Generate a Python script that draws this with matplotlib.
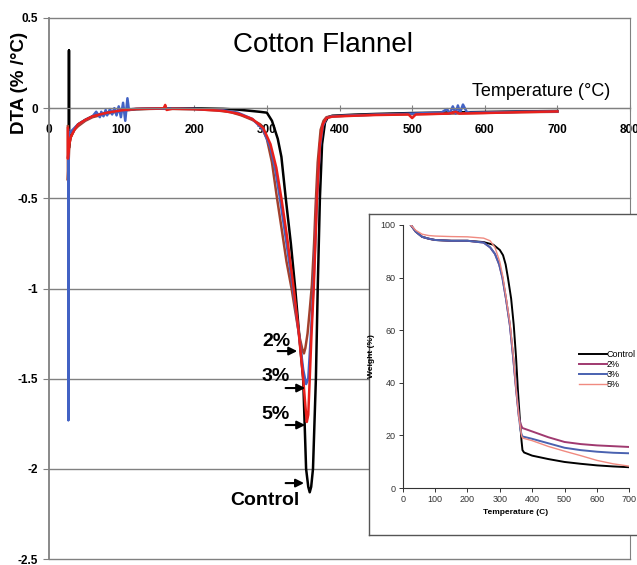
import matplotlib.pyplot as plt

plt.rcParams['font.family'] = ['Liberation Sans', 'DejaVu Sans']

# DTA curves (temperature in C, DTA in %/C)
ctrl_t = [27.5, 27.5, 27.5, 29, 32, 36, 40, 50, 60, 70, 80, 100, 120, 150, 200, 240, 260, 275, 290, 300, 307,
          315, 320, 326, 333, 339, 345, 350, 354, 357, 359, 361, 363.5, 367.5, 370, 373, 376, 380, 384, 390,
          420, 450, 500, 550, 600, 650, 700]
ctrl_v = [-0.12, 0.32, -0.22, -0.17, -0.14, -0.11, -0.09, -0.065, -0.045, -0.035, -0.025, -0.012, -0.005, -0.002,
          -0.001, -0.004, -0.008, -0.014, -0.02, -0.025, -0.07, -0.17, -0.27, -0.5, -0.75, -1.0, -1.28, -1.5,
          -2.0, -2.1, -2.13, -2.1, -2.0, -1.5, -1.0, -0.5, -0.2, -0.08, -0.05, -0.042, -0.036, -0.032, -0.027,
          -0.024, -0.021, -0.018, -0.016]

p2_t = [26, 26, 28, 30, 35, 40, 50, 60, 80, 100, 120, 150, 200, 230, 250, 265, 280, 291, 300, 307, 314, 320,
        327, 334, 340, 345, 349, 351, 353, 356, 359, 362, 365, 367, 370, 374, 378, 382, 390, 420, 450, 500,
        550, 600, 650, 700]
p2_v = [-0.1, -0.4, -0.2, -0.16, -0.12, -0.1, -0.07, -0.05, -0.03, -0.015, -0.006, -0.003, -0.006, -0.012,
        -0.022, -0.04, -0.065, -0.09, -0.17, -0.3, -0.5, -0.66, -0.85, -1.0, -1.15, -1.27, -1.34, -1.36, -1.33,
        -1.25, -1.12, -0.98, -0.75, -0.55, -0.3, -0.12, -0.07, -0.05, -0.045, -0.04, -0.036, -0.033, -0.03,
        -0.026, -0.022, -0.02]

p3_t = [26.6, 26.6, 26.6, 28, 30, 35, 40, 50, 60, 65, 70, 72, 75, 78, 80, 84, 87, 90, 93, 96, 99, 102, 105,
        108, 110, 115, 130, 150, 200, 240, 260, 280, 295, 305, 312, 318, 326, 336, 344, 350, 354, 357, 360,
        364, 369, 373, 377, 382, 390, 420, 450, 500, 540, 548, 552, 556, 560, 563, 566, 570, 575, 580, 600,
        650, 700]
p3_v = [-0.12, -1.73, -0.14, -0.14, -0.13, -0.11, -0.09, -0.065, -0.045, -0.02, -0.05, -0.02, -0.045, -0.01,
        -0.04, -0.005, -0.035, 0.0, -0.04, 0.01, -0.05, 0.03, -0.07, 0.055, -0.01, -0.005, -0.003, -0.002,
        -0.004, -0.012, -0.025, -0.06, -0.12, -0.22, -0.35, -0.5, -0.72, -1.0, -1.25, -1.45, -1.53, -1.5,
        -1.3, -1.0, -0.5, -0.22, -0.1, -0.055, -0.045, -0.04, -0.036, -0.03, -0.025, -0.005, -0.03, 0.01,
        -0.03, 0.015, -0.025, 0.02, -0.02, -0.025, -0.024, -0.02, -0.018]

p5_t = [26, 26, 28, 30, 35, 40, 50, 60, 80, 100, 120, 150, 158, 160, 162, 170, 200, 240, 260, 280, 295, 305,
        313, 320, 328, 337, 344, 350, 353, 355, 357, 359, 361.5, 364.5, 369, 373, 377, 382, 390, 420, 450,
        495, 500, 505, 550, 560, 565, 600, 650, 700]
p5_v = [-0.11, -0.28, -0.2, -0.16, -0.12, -0.09, -0.065, -0.045, -0.025, -0.012, -0.004, -0.002, 0.0, 0.018,
        -0.01, -0.003, -0.005, -0.015, -0.03, -0.06, -0.11, -0.2, -0.33, -0.5, -0.72, -1.0, -1.25, -1.5, -1.65,
        -1.74, -1.7, -1.5, -1.25, -1.0, -0.5, -0.2, -0.09, -0.055, -0.047, -0.042, -0.038, -0.035, -0.055,
        -0.035, -0.03, -0.02, -0.03, -0.027, -0.022, -0.018]

# TGA inset (weight %)
tga_ctrl_t = [25, 40, 60, 80, 100, 150, 200, 250, 280, 300, 310, 318, 325, 335, 343, 350, 356, 362, 367, 370,
              375, 400, 450, 500, 550, 600, 650, 700]
tga_ctrl_v = [100, 97.5, 95.5, 94.8, 94.3, 94, 94, 93.5, 92.5, 90.5, 88.5, 85, 80, 72, 62, 50, 37, 26, 18, 14.4,
              13.5, 12.3, 11, 9.9, 9.2, 8.6, 8.2, 7.9]
tga_2_t = [25, 40, 60, 80, 100, 150, 200, 250, 270, 285, 298, 308, 319, 331, 341, 350, 359, 364, 367, 370, 400,
           450, 500, 550, 600, 650, 700]
tga_2_v = [100, 97.5, 95.5, 94.8, 94.3, 94, 94, 93.3, 91.5, 89, 85, 80, 72, 62, 50, 38, 27, 24.5, 23.5, 22.8,
           21.5, 19.3, 17.5, 16.7, 16.2, 15.9, 15.6]
tga_3_t = [25, 40, 60, 80, 100, 150, 200, 250, 270, 285, 298, 308, 319, 331, 341, 350, 359, 364, 367, 370, 400,
           450, 500, 550, 600, 650, 700]
tga_3_v = [100, 97.5, 95.5, 94.8, 94.3, 94, 94, 93.3, 91.5, 89, 85, 80, 72, 62, 50, 38, 27, 22, 20.5, 19.6,
           18.7, 17, 15.3, 14.4, 13.8, 13.4, 13.2]
tga_5_t = [25, 40, 60, 80, 100, 150, 200, 250, 270, 285, 300, 310, 320, 332, 342, 350, 359, 367, 370, 400, 450,
           500, 550, 600, 650, 700]
tga_5_v = [100, 98, 96.5, 96, 95.8, 95.6, 95.5, 95, 94, 91.5, 86, 80, 72, 62, 50, 38, 27, 20, 19, 18, 15.8, 14,
           12.3, 10.5, 9.2, 8.3]

labels = ['Control', '2%', '3%', '5%']
main_colors = ['black', '#A3402C', '#4262C4', '#E8201C']
tga_colors = ['black', '#A03A70', '#4A62B0', '#F08A80']

yticks = [0.5, 0, -0.5, -1, -1.5, -2, -2.5]
xticks = [0, 100, 200, 300, 400, 500, 600, 700, 800]

fig = plt.figure(figsize=(6.37, 5.65), dpi=100)
ax = fig.add_axes([49/637, 6/565, 581/637, 541/565])

for t, v, c in zip([ctrl_t, p2_t, p3_t, p5_t], [ctrl_v, p2_v, p3_v, p5_v], main_colors):
    ax.plot(t, v, color=c, lw=1.8)

ax.set_xlim(0, 800)
ax.set_ylim(-2.5, 0.5)
ax.set_xticks(xticks)
ax.set_yticks(yticks)
ax.set_yticklabels(['0.5', '0', '-0.5', '-1', '-1.5', '-2', '-2.5'])
for y in yticks:
    ax.axhline(y, color='#808080', lw=1, clip_on=False, zorder=0)
ax.spines['bottom'].set_position(('data', 0))
ax.spines['top'].set_visible(False)
for s in ['left', 'right', 'bottom']:
    ax.spines[s].set_color('#808080')
ax.spines['left'].set_linewidth(1.3)
ax.tick_params(axis='y', colors='#808080', length=4, pad=4, labelcolor='black')
ax.tick_params(axis='x', colors='#808080', direction='inout', length=5, pad=9, labelcolor='black')
for lab in ax.get_xticklabels() + ax.get_yticklabels():
    lab.set_fontweight('bold')
    lab.set_fontsize(8.5)

ax.text(377, 0.349, 'Cotton Flannel', fontsize=20, ha='center', va='center')
ax.text(677, 0.094, 'Temperature (°C)', fontsize=13, ha='center', va='center')
fig.text(20/637, 1 - 83/565, 'DTA (% /°C)', rotation=90, ha='center', va='center',
         fontsize=13.5, fontweight='bold')

# arrows pointing at the peaks
arr = dict(arrowstyle='-|>', color='black', lw=1.5, mutation_scale=12)
ax.annotate('', xy=(345.6, -1.347), xytext=(311, -1.347), arrowprops=arr)
ax.annotate('', xy=(356.6, -1.552), xytext=(322, -1.552), arrowprops=arr)
ax.annotate('', xy=(356.6, -1.757), xytext=(322, -1.757), arrowprops=arr)
ax.annotate('', xy=(355, -2.079), xytext=(322, -2.079), arrowprops=arr)
ax.text(312.5, -1.292, '2%', fontsize=14, fontweight='bold', ha='center', va='center')
ax.text(312.5, -1.486, '3%', fontsize=14, fontweight='bold', ha='center', va='center')
ax.text(312.5, -1.696, '5%', fontsize=14, fontweight='bold', ha='center', va='center')
ax.text(297, -2.173, 'Control', fontsize=14, fontweight='bold', ha='center', va='center')

# inset TGA plot
frame = fig.add_axes([369/637, 1 - 535/565, 280/637, 321/565])
frame.set_xticks([])
frame.set_yticks([])
for s in frame.spines.values():
    s.set_color('#555555')
    s.set_linewidth(1)

ins = fig.add_axes([402.7/637, 1 - 488/565, 226.6/637, 263/565])
for t, v, c, l in zip([tga_ctrl_t, tga_2_t, tga_3_t, tga_5_t], [tga_ctrl_v, tga_2_v, tga_3_v, tga_5_v],
                      tga_colors, labels):
    ins.plot(t, v, color=c, lw=1.4 if l != '5%' else 1.0, label=l)
ins.set_xlim(0, 700)
ins.set_ylim(0, 100)
ins.set_xticks(range(0, 701, 100))
ins.set_yticks(range(0, 101, 20))
ins.patch.set_alpha(0)
ins.spines['top'].set_visible(False)
ins.spines['right'].set_visible(False)
for s in ['left', 'bottom']:
    ins.spines[s].set_linewidth(0.8)
    ins.spines[s].set_color('#333333')
ins.tick_params(labelsize=6.5, length=3, width=0.7, pad=2, colors='#333333')
ins.set_xlabel('Temperature (C)', fontsize=6, fontweight='bold', labelpad=4)
ins.set_ylabel('Weight (%)', fontsize=6, fontweight='bold', labelpad=4)
ins.legend(loc='upper left', bbox_to_anchor=(0.76, 0.54), frameon=False, fontsize=6.5,
           handlelength=3.0, handletextpad=0.0, labelspacing=0.1, borderpad=0)

fig.savefig('out.png', dpi=100)
